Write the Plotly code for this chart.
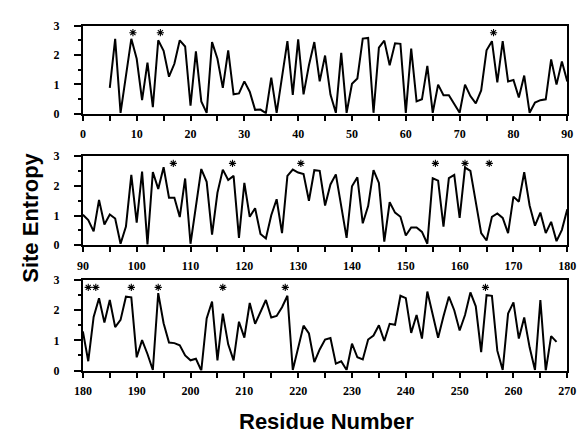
import plotly.graph_objects as go

# ---- data ----
top_res = list(range(5, 91))
top_ent = [0.88, 2.55, 0.03, 1.3, 2.55, 1.87, 0.46, 1.74, 0.22, 2.5,
           2.14, 1.26, 1.7, 2.5, 2.29, 0.27, 2.12, 0.42, 0.03, 2.44,
           1.87, 0.88, 2.16, 0.66, 0.69, 1.1, 0.75, 0.13, 0.14, 0.02,
           1.23, 0.03, 1.3, 2.47, 0.64, 2.53, 0.66, 1.65, 2.44, 1.1,
           1.98, 0.65, 0.03, 2.07, 0.03, 1.02, 1.2, 2.56, 2.58, 0.03,
           2.25, 2.49, 1.65, 2.4, 2.38, 0.03, 2.22, 0.42, 0.49, 1.63,
           0.03, 0.99, 0.63, 0.63, 0.33, 0.03, 0.99, 0.6, 0.35, 0.79,
           2.16, 2.47, 1.07, 2.47, 1.1, 1.15, 0.55, 1.3, 0.03, 0.38,
           0.46, 0.49, 1.85, 0.99, 1.78, 1.1]

mid_res = list(range(90, 181))
mid_ent = [1.03, 0.85, 0.47, 1.53, 0.7, 1.04, 0.9, 0.05, 0.63, 2.37,
           0.76, 2.48, 0.03, 2.47, 1.9, 2.63, 1.6, 1.6, 0.95, 2.25,
           0.05, 1.23, 2.57, 2.14, 0.36, 1.77, 2.55, 2.2, 2.34, 0.25,
           2.1, 0.96, 1.25, 0.38, 0.23, 1.01, 1.55, 0.41, 2.34, 2.55,
           2.45, 2.4, 1.5, 2.53, 2.51, 1.34, 2.05, 2.39, 1.36, 0.25,
           1.99, 2.29, 0.74, 1.32, 2.53, 2.1, 0.12, 1.45, 1.1, 0.96,
           0.33, 0.6, 0.6, 0.45, 0.05, 2.26, 2.18, 0.63, 2.26, 2.37,
           0.92, 2.62, 2.51, 1.45, 0.41, 0.16, 0.96, 1.07, 0.92, 0.41,
           1.64, 1.47, 2.46, 1.34, 0.66, 1.1, 0.41, 0.79, 0.14, 0.52,
           1.21]

bot_res = list(range(180, 269))
bot_ent = [1.3, 0.31, 1.78, 2.4, 1.59, 2.34, 1.44, 1.68, 2.45, 2.43,
           0.44, 1.01, 0.55, 0.02, 2.57, 1.57, 0.93, 0.91, 0.84, 0.5,
           0.34, 0.39, 0.0, 1.73, 2.29, 0.34, 1.89, 0.87, 0.34, 1.62,
           1.09, 2.24, 1.55, 1.95, 2.34, 1.76, 1.81, 2.1, 2.48, 0.02,
           0.8, 1.49, 1.23, 0.28, 0.7, 1.03, 1.08, 0.23, 0.31, 0.02,
           0.89, 0.44, 0.37, 1.03, 1.16, 1.5, 0.98, 1.55, 1.52, 2.48,
           2.4, 1.25, 1.84, 1.06, 2.62, 1.85, 1.09, 1.8, 2.45, 2.0,
           1.33, 1.84, 2.59, 2.13, 0.61, 2.5, 2.48, 0.66, 0.02, 1.89,
           2.26, 1.06, 1.76, 0.77, 0.02, 2.34, 0.0, 1.14, 0.95]

top_stars = [9.3, 14.4, 76.3]
mid_stars = [106.8, 117.8, 130.5, 155.5, 161.0, 165.5]
bot_stars = [181.0, 182.4, 189.0, 194.0, 206.0, 217.6, 254.8]
star_level = 2.76

panel_ranges = [(0, 90), (90, 180), (180, 270)]

# ---- layout geometry ----
# The page body keeps its default 8px margin, so the figure is drawn 8px
# right and down; size and place it so it lands on the reference pixels.
OFF = 8
W, H = 585 - OFF, 439 - OFF


def px_x(X):
    return (X - OFF) / W


def px_y(Y):
    return 1 - (Y - OFF) / H


x_dom = [px_x(76), px_x(576)]
y_doms = [[px_y(110), px_y(19)],
          [px_y(246), px_y(154)],
          [px_y(375.5), px_y(282)]]

fig = go.Figure()
datasets = [(top_res, top_ent, top_stars), (mid_res, mid_ent, mid_stars),
            (bot_res, bot_ent, bot_stars)]

tick_font = dict(family="Liberation Serif", size=12, color="black", weight="bold")

for i, (xs, ys, stars) in enumerate(datasets):
    sfx = "" if i == 0 else str(i + 1)
    fig.add_trace(go.Scatter(x=xs, y=ys, mode="lines",
                             line=dict(color="black", width=2),
                             xaxis="x" + sfx, yaxis="y" + sfx,
                             showlegend=False, hoverinfo="skip"))
    fig.add_trace(go.Scatter(x=stars, y=[star_level] * len(stars), mode="markers",
                             marker=dict(symbol="asterisk-open", size=6, color="black",
                                         line=dict(color="black", width=1.1)),
                             xaxis="x" + sfx, yaxis="y" + sfx,
                             showlegend=False, hoverinfo="skip"))
    lo, hi = panel_ranges[i]
    fig.update_layout(**{
        "xaxis" + sfx: dict(domain=x_dom, anchor="y" + sfx, range=[lo, hi],
                            tickmode="array", tickvals=list(range(lo, hi + 1, 10)),
                            ticks="outside", ticklen=5, tickwidth=1.5, tickcolor="black",
                            minor=dict(dtick=5, tick0=lo, ticks="outside", ticklen=5,
                                       tickwidth=1.5, tickcolor="black"),
                            showline=True, linecolor="black", linewidth=2, mirror=True,
                            showgrid=False, zeroline=False, tickfont=tick_font,
                            ticklabelstandoff=3),
        "yaxis" + sfx: dict(domain=y_doms[i], anchor="x" + sfx, range=[0, 3],
                            tickvals=[0, 1, 2, 3], ticks="outside", ticklen=7,
                            tickwidth=1.5, tickcolor="black",
                            minor=dict(dtick=0.5, ticks="outside", ticklen=3,
                                       tickwidth=1.5, tickcolor="black"),
                            showline=True, linecolor="black", linewidth=2, mirror=True,
                            showgrid=False, zeroline=False, tickfont=tick_font,
                            ticklabelstandoff=12),
    })

fig.update_layout(
    width=W, height=H,
    margin=dict(l=0, r=0, t=0, b=0),
    paper_bgcolor="white", plot_bgcolor="white",
    annotations=[
        dict(text="Site Entropy", x=px_x(22), y=px_y(218), xref="paper", yref="paper",
             textangle=-90, showarrow=False, xanchor="center", yanchor="middle",
             font=dict(family="Liberation Sans", size=22, color="black", weight="bold")),
        dict(text="Residue Number", x=px_x(327), y=px_y(428), xref="paper", yref="paper",
             showarrow=False, xanchor="center", yanchor="middle",
             font=dict(family="Liberation Sans", size=22, color="black", weight="bold")),
    ],
)

fig.write_html("out.html")
